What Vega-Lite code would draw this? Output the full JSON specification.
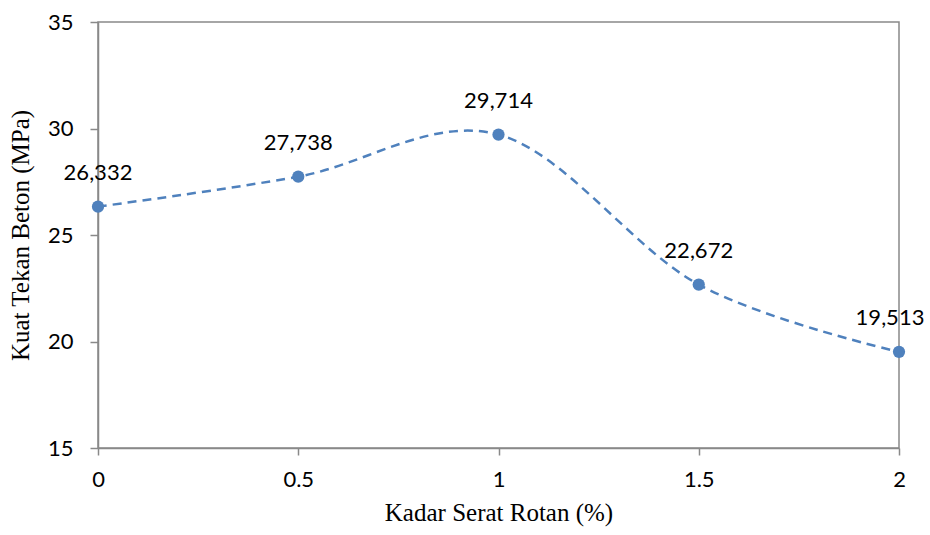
{
  "$schema": "https://vega.github.io/schema/vega-lite/v6.json",
  "width": 801,
  "height": 426,
  "autosize": {"type": "none"},
  "padding": {"left": 98, "top": 22, "right": 31, "bottom": 87},
  "background": "white",
  "config": {
    "view": {"stroke": "#898989", "strokeWidth": 1.5},
    "axis": {
      "grid": false,
      "domainColor": "#898989",
      "domainWidth": 1.5,
      "tickColor": "#898989",
      "tickWidth": 1.5,
      "labelFont": "Lato",
      "labelFontSize": 22,
      "labelColor": "#000000",
      "titleFont": "Liberation Serif",
      "titleFontSize": 25,
      "titleFontWeight": "normal",
      "titleColor": "#000000"
    }
  },
  "data": {
    "values": [
      {"kadar": 0, "kuat": 26.332, "label": "26,332"},
      {"kadar": 0.5, "kuat": 27.738, "label": "27,738"},
      {"kadar": 1, "kuat": 29.714, "label": "29,714"},
      {"kadar": 1.5, "kuat": 22.672, "label": "22,672"},
      {"kadar": 2, "kuat": 19.513, "label": "19,513"}
    ]
  },
  "encoding": {
    "x": {
      "field": "kadar",
      "type": "quantitative",
      "scale": {"domain": [0, 2], "nice": false, "zero": false},
      "axis": {
        "title": "Kadar Serat Rotan (%)",
        "values": [0, 0.5, 1, 1.5, 2],
        "format": "",
        "tickSize": 7,
        "labelPadding": 14,
        "titlePadding": 10,
        "labelFlush": false
      }
    },
    "y": {
      "field": "kuat",
      "type": "quantitative",
      "scale": {"domain": [15, 35], "nice": false, "zero": false},
      "axis": {
        "title": "Kuat Tekan Beton (MPa)",
        "values": [15, 20, 25, 30, 35],
        "tickSize": 8,
        "labelPadding": 17,
        "titlePadding": 14
      }
    }
  },
  "layer": [
    {
      "mark": {
        "type": "line",
        "interpolate": "cardinal",
        "color": "#4F81BD",
        "strokeWidth": 2.5,
        "strokeDash": [9, 6]
      }
    },
    {
      "mark": {
        "type": "point",
        "filled": true,
        "color": "#4F81BD",
        "opacity": 1,
        "size": 150
      }
    },
    {
      "transform": [{"filter": "datum.kadar < 2"}],
      "mark": {
        "type": "text",
        "font": "Lato",
        "fontSize": 22,
        "color": "#000000",
        "dy": -34,
        "align": "center",
        "baseline": "middle"
      },
      "encoding": {"text": {"field": "label"}}
    },
    {
      "transform": [{"filter": "datum.kadar == 2"}],
      "mark": {
        "type": "text",
        "font": "Lato",
        "fontSize": 22,
        "color": "#000000",
        "dy": -34,
        "dx": -9,
        "align": "center",
        "baseline": "middle"
      },
      "encoding": {"text": {"field": "label"}}
    }
  ]
}
